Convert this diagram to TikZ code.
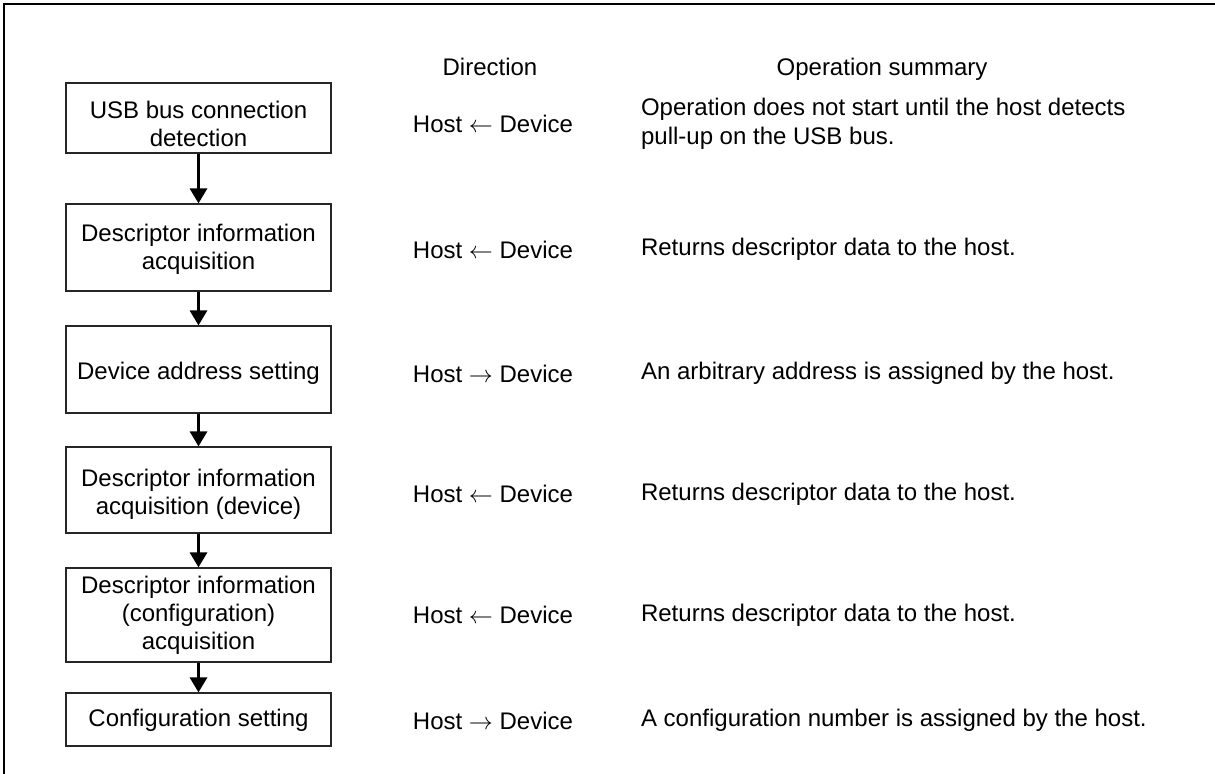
\documentclass[tikz,border=0pt]{standalone}
\usepackage{fontspec}
\setmainfont{Liberation Sans}
\usepackage{tikz}
\usetikzlibrary{arrows.meta}

\tikzset{
  stepbox/.style={draw=black!85, line width=0.6pt, minimum width=132.5pt},
  boxtext/.style={align=center, font=\fontsize{12}{13.9}\selectfont},
  txt/.style={font=\fontsize{12}{14.5}\selectfont},
  flow/.style={line width=1.6pt, -{Triangle[width=8.5pt, length=7.5pt]}}
}

\begin{document}
\begin{tikzpicture}[x=0.5pt, y=-0.5pt]
\useasboundingbox (0,0) rectangle (1215,774);
\draw[line width=1.1pt] (4,774) -- (4,4) -- (1215,4);
% column headings
\node[txt, anchor=base] (hdir) at (490,76) {Direction};
\node[txt, anchor=base] (hsum) at (882,76) {Operation summary};
% steps
\foreach \n/\y/\h/\o/\t/\d/\s in {
  1/118/70/6/{USB bus connection\\detection}/{Host $\leftarrow$ Device}/{Operation does not start until the host detects\\pull-up on the USB bus.},
  2/247.5/87/2/{Descriptor information\\acquisition}/{Host $\leftarrow$ Device}/{Returns descriptor data to the host.},
  3/369.5/87/4/{Device address setting}/{Host $\rightarrow$ Device}/{An arbitrary address is assigned by the host.},
  4/490/86/4/{Descriptor information\\acquisition (device)}/{Host $\leftarrow$ Device}/{Returns descriptor data to the host.},
  5/615/94/0/{Descriptor information\\(configuration)\\acquisition}/{Host $\leftarrow$ Device}/{Returns descriptor data to the host.},
  6/719.5/53/1/{Configuration setting}/{Host $\rightarrow$ Device}/{A configuration number is assigned by the host.}} {
  \node[stepbox, minimum height=\h*0.5pt,
        label={[boxtext, yshift=-\o*0.5pt]center:\t}] (b\n) at (198.5,\y) {};
  \node[txt] (d\n) at (493,\y+\o) {\d};
  \node[txt, anchor=west, align=left] (s\n) at (634,\y+\o) {\s};
}
\foreach \a/\b in {1/2, 2/3, 3/4, 4/5, 5/6}
  \draw[flow] (b\a) -- (b\b);
\end{tikzpicture}
\end{document}
